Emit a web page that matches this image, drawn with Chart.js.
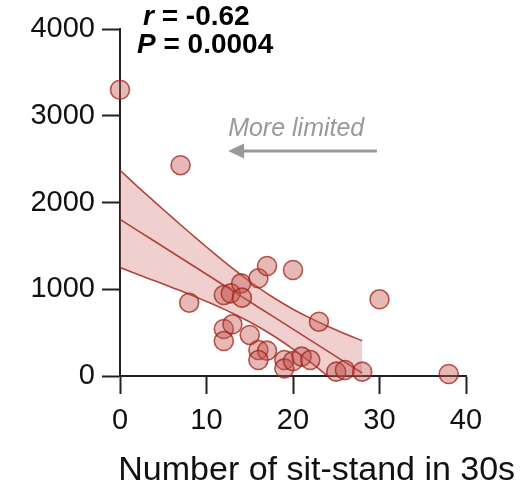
<!DOCTYPE html>
<html>
<head>
<meta charset="utf-8">
<script src="https://cdn.jsdelivr.net/npm/chart.js@4/dist/chart.umd.min.js"></script>
<style>
  html, body { margin: 0; padding: 0; background: #ffffff; }
  canvas { display: block; }
</style>
</head>
<body>
<canvas id="c" width="528" height="495"></canvas>
<script>
// ---- data ----
const sitStand = [0, 7, 8, 12, 12.8, 14, 14.1, 16, 17, 20, 30, 23, 12, 13, 12, 15, 16, 17, 16, 19, 19, 20, 21, 22, 25, 26, 28, 38];
const outcome  = [3300, 2430, 845, 934, 953, 1068, 903, 1126, 1268, 1222, 884, 626, 542, 596, 403, 473, 300, 292, 184, 184, 88, 173, 223, 184, 50, 69, 50, 23];

// regression line and 95% confidence band, read at these x positions
const fitX     = [0, 2, 4, 6, 8, 10, 12, 14, 16, 18, 20, 22, 24, 26, 28];
const fitLine  = [1806, 1679, 1553, 1426, 1300, 1173, 1046, 920, 793, 667, 540, 413, 287, 160, 34];
const bandHigh = [2372, 2186, 2008, 1831, 1657, 1487, 1321, 1165, 1018, 887, 770, 667, 574, 488, 407];
const bandLow  = [1250, 1172, 1098, 1021, 943, 859, 771, 675, 568, 447, 310, 159, 0, -168, -339];

const xTicks = [0, 10, 20, 30, 40];
const yTicks = [0, 1000, 2000, 3000, 4000];

const xTitle = 'Number of sit-stand in 30s';
const statR = ['r', ' = -0.62'];
const statP = ['P', ' = 0.0004'];
const arrowLabel = 'More limited';

// ---- build ----
const pts = sitStand.map((x, i) => ({ x: x, y: outcome[i] }));
const toXY = arr => fitX.map((x, i) => ({ x: x, y: arr[i] }));

const RED = 'rgba(165, 40, 30, 0.85)';
const axisCol = '#222222';
const tickFont = { family: '"Liberation Sans", Arial, sans-serif', size: 29 };

const annotate = {
  id: 'annotate',
  afterDraw(chart) {
    const ctx = chart.ctx;
    const xs = chart.scales.x, ys = chart.scales.y;
    const ca = chart.chartArea;
    ctx.save();
    // stats text
    ctx.fillStyle = '#000';
    ctx.textBaseline = 'alphabetic';
    ctx.textAlign = 'left';
    const drawStat = (parts, x, y) => {
      ctx.font = 'italic bold 28px "Liberation Sans", Arial, sans-serif';
      ctx.fillText(parts[0], x, y);
      const w = ctx.measureText(parts[0]).width;
      ctx.font = 'bold 28px "Liberation Sans", Arial, sans-serif';
      ctx.fillText(parts[1], x + w, y);
    };
    drawStat(statR, ca.left + 23, 25);
    drawStat(statP, ca.left + 17, 53);

    // arrow
    const ay = ys.getPixelForValue(2594);
    const ax0 = xs.getPixelForValue(29.7);
    const ax1 = xs.getPixelForValue(12.5);
    ctx.strokeStyle = '#999999';
    ctx.fillStyle = '#999999';
    ctx.lineWidth = 3;
    ctx.beginPath();
    ctx.moveTo(ax0, ay);
    ctx.lineTo(ax1 + 14, ay);
    ctx.stroke();
    ctx.beginPath();
    ctx.moveTo(ax1, ay);
    ctx.lineTo(ax1 + 16, ay - 7.5);
    ctx.lineTo(ax1 + 16, ay + 7.5);
    ctx.closePath();
    ctx.fill();

    ctx.font = 'italic 25px "Liberation Sans", Arial, sans-serif';
    ctx.fillStyle = '#999999';
    ctx.fillText(arrowLabel, ax1, ys.getPixelForValue(2767));

    // x-axis title
    ctx.font = '34px "Liberation Sans", Arial, sans-serif';
    ctx.fillStyle = '#111';
    ctx.textAlign = 'center';
    ctx.fillText(xTitle, 316.7, 480);
    ctx.restore();
  }
};

new Chart(document.getElementById('c'), {
  type: 'scatter',
  data: {
    datasets: [
      {
        label: 'Participants',
        data: pts,
        order: 0,
        clip: false,
        pointRadius: 9.5,
        pointHoverRadius: 9.5,
        pointBackgroundColor: 'rgba(195, 85, 80, 0.42)',
        pointBorderColor: 'rgba(160, 35, 25, 0.75)',
        pointBorderWidth: 1.6
      },
      {
        label: 'Upper 95% CI',
        type: 'line',
        data: toXY(bandHigh),
        order: 3,
        showLine: true,
        pointRadius: 0,
        borderColor: RED,
        borderWidth: 1.6,
        tension: 0.4,
        fill: { target: 3 },
        backgroundColor: 'rgba(205, 110, 105, 0.32)'
      },
      {
        label: 'Fit',
        type: 'line',
        data: toXY(fitLine),
        order: 1,
        showLine: true,
        pointRadius: 0,
        borderColor: RED,
        borderWidth: 1.6,
        fill: false
      },
      {
        label: 'Lower 95% CI',
        type: 'line',
        data: toXY(bandLow),
        order: 2,
        showLine: true,
        pointRadius: 0,
        borderColor: RED,
        borderWidth: 1.6,
        tension: 0.4,
        fill: false
      }
    ]
  },
  options: {
    responsive: false,
    devicePixelRatio: 1,
    animation: false,
    events: [],
    layout: { padding: { top: 29, right: 62, left: 0, bottom: 0 } },
    plugins: {
      legend: { display: false },
      tooltip: { enabled: false },
      title: { display: false }
    },
    scales: {
      x: {
        type: 'linear',
        min: 0,
        max: 40,
        afterFit: s => { s.height = 119; },
        afterBuildTicks: s => { s.ticks = xTicks.map(v => ({ value: v })); },
        ticks: { font: tickFont, color: '#111', padding: 10, maxRotation: 0, callback: v => String(v) },
        grid: { display: true, drawOnChartArea: false, drawTicks: true, tickLength: 18, tickWidth: 2, tickColor: axisCol },
        border: { display: true, color: axisCol, width: 2 }
      },
      y: {
        type: 'linear',
        min: 0,
        max: 4000,
        afterFit: s => { s.width = 120; },
        afterBuildTicks: s => { s.ticks = yTicks.map(v => ({ value: v })); },
        ticks: { font: tickFont, color: '#111', padding: 7, callback: v => String(v) },
        grid: { display: true, drawOnChartArea: false, drawTicks: true, tickLength: 18, tickWidth: 2, tickColor: axisCol },
        border: { display: true, color: axisCol, width: 2 }
      }
    }
  },
  plugins: [annotate]
});
</script>
</body>
</html>
